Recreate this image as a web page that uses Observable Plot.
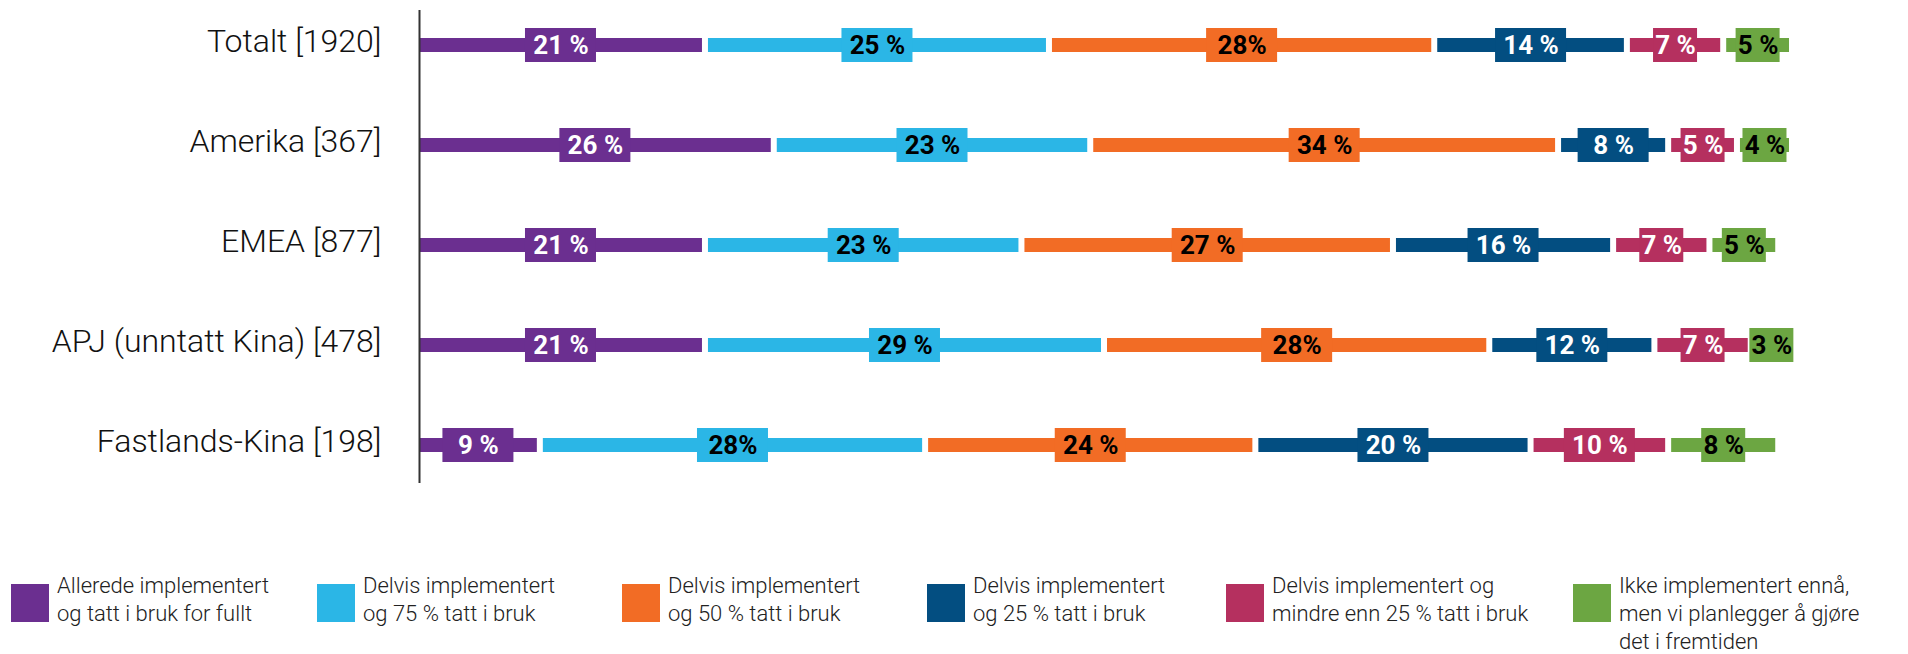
<!DOCTYPE html>
<html><head><meta charset="utf-8">
<script src="https://cdn.jsdelivr.net/npm/d3@7"></script>
<script src="https://cdn.jsdelivr.net/npm/@observablehq/plot@0.6"></script>
<style>
html,body{margin:0;padding:0;background:#fff;overflow:hidden;}
#wrap{position:relative;width:1908px;height:654px;font-family:Roboto,sans-serif;}
#chart{position:absolute;left:0;top:0;}
.leg{position:absolute;top:572px;display:flex;align-items:flex-start;}
.sw{width:38px;height:38px;margin-top:12px;margin-right:8px;flex:none;}
.lt{font-family:"Roboto Light",Roboto,sans-serif;font-size:22px;line-height:28px;font-weight:300;color:#222;white-space:pre-line;}
</style></head><body><div id="wrap"><div id="chart"></div><div id="legend"></div></div>
<script>
const categories = ["Totalt [1920]", "Amerika [367]", "EMEA [877]", "APJ (unntatt Kina) [478]", "Fastlands-Kina [198]"];
const seriesNames = [
  "Allerede implementert\nog tatt i bruk for fullt",
  "Delvis implementert\nog 75 % tatt i bruk",
  "Delvis implementert\nog 50 % tatt i bruk",
  "Delvis implementert\nog 25 % tatt i bruk",
  "Delvis implementert og\nmindre enn 25 % tatt i bruk",
  "Ikke implementert ennå,\nmen vi planlegger å gjøre\ndet i fremtiden"
];
const seriesColors = ["#6b2f90", "#2bb6e6", "#f26c25", "#034e81", "#b5305f", "#6ca642"];
const textColors = ["#fff", "#000", "#000", "#fff", "#fff", "#000"];

const allerede = [21, 26, 21, 21, 9];
const delvis75 = [25, 23, 23, 29, 28];
const delvis50 = [28, 34, 27, 28, 24];
const delvis25 = [14, 8, 16, 12, 20];
const delvisMindre = [7, 5, 7, 7, 10];
const ikkeEnna = [5, 4, 5, 3, 8];

const lblAllerede = ["21 %", "26 %", "21 %", "21 %", "9 %"];
const lblDelvis75 = ["25 %", "23 %", "23 %", "29 %", "28%"];
const lblDelvis50 = ["28%", "34 %", "27 %", "28%", "24 %"];
const lblDelvis25 = ["14 %", "8 %", "16 %", "12 %", "20 %"];
const lblDelvisMindre = ["7 %", "5 %", "7 %", "7 %", "10 %"];
const lblIkkeEnna = ["5 %", "4 %", "5 %", "3 %", "8 %"];

const seriesValues = [allerede, delvis75, delvis50, delvis25, delvisMindre, ikkeEnna];
const seriesLabels = [lblAllerede, lblDelvis75, lblDelvis50, lblDelvis25, lblDelvisMindre, lblIkkeEnna];

const rows = [];
categories.forEach((cat, ci) => {
  let acc = 0;
  seriesValues.forEach((vals, si) => {
    const v = vals[ci];
    rows.push({cat, si, series: seriesNames[si], value: v, x1: acc, x2: acc + v, mid: acc + v / 2,
      label: seriesLabels[si][ci], narrow: si >= 4 && v < 10, white: textColors[si] === "#fff"});
    acc += v;
  });
});

const gap = 6;
const chart = Plot.plot({
  width: 1908,
  height: 500,
  marginLeft: 419,
  marginRight: 113,
  marginTop: 10,
  marginBottom: 17,
  style: {fontFamily: "Roboto, sans-serif", background: "#fff", overflow: "visible"},
  x: {domain: [0, 100], axis: null},
  y: {type: "band", domain: categories, range: [-5, 495], padding: 0, axis: null},
  color: {domain: seriesNames, range: seriesColors},
  marks: [
    Plot.barX(rows, {y: "cat", x1: "x1", x2: "x2", fill: "series", insetTop: 43, insetBottom: 43, insetRight: gap}),
    Plot.barX(rows.filter(d => !d.narrow), {y: "cat", x1: "mid", x2: "mid", fill: "series", dx: -gap / 2,
      insetLeft: -35.5, insetRight: -35.5, insetTop: 33, insetBottom: 33}),
    Plot.barX(rows.filter(d => d.narrow), {y: "cat", x1: "mid", x2: "mid", fill: "series", dx: -gap / 2,
      insetLeft: -22, insetRight: -22, insetTop: 33, insetBottom: 33}),
    Plot.text(rows.filter(d => d.white), {y: "cat", x: "mid", text: "label", dx: -gap / 2, fill: "#fff",
      fontSize: 26, fontWeight: 700}),
    Plot.text(rows.filter(d => !d.white), {y: "cat", x: "mid", text: "label", dx: -gap / 2, fill: "#000",
      fontSize: 26, fontWeight: 700}),
    Plot.text(categories, {y: d => d, x: () => 0, text: d => d, dx: -38, dy: -4, textAnchor: "end",
      fontSize: 32, fontWeight: 300, fontFamily: "'Roboto Light', Roboto, sans-serif", fill: "#111"}),
    Plot.ruleX([0], {stroke: "#333", strokeWidth: 2})
  ]
});
document.getElementById("chart").appendChild(chart);

const legendLeft = [11, 317, 622, 927, 1226, 1573];
const legend = document.getElementById("legend");
seriesNames.forEach((name, i) => {
  const item = document.createElement("div");
  item.className = "leg";
  item.style.left = legendLeft[i] + "px";
  const sw = document.createElement("div");
  sw.className = "sw";
  sw.style.background = seriesColors[i];
  const t = document.createElement("div");
  t.className = "lt";
  t.textContent = name;
  item.appendChild(sw);
  item.appendChild(t);
  legend.appendChild(item);
});
</script></body></html>
